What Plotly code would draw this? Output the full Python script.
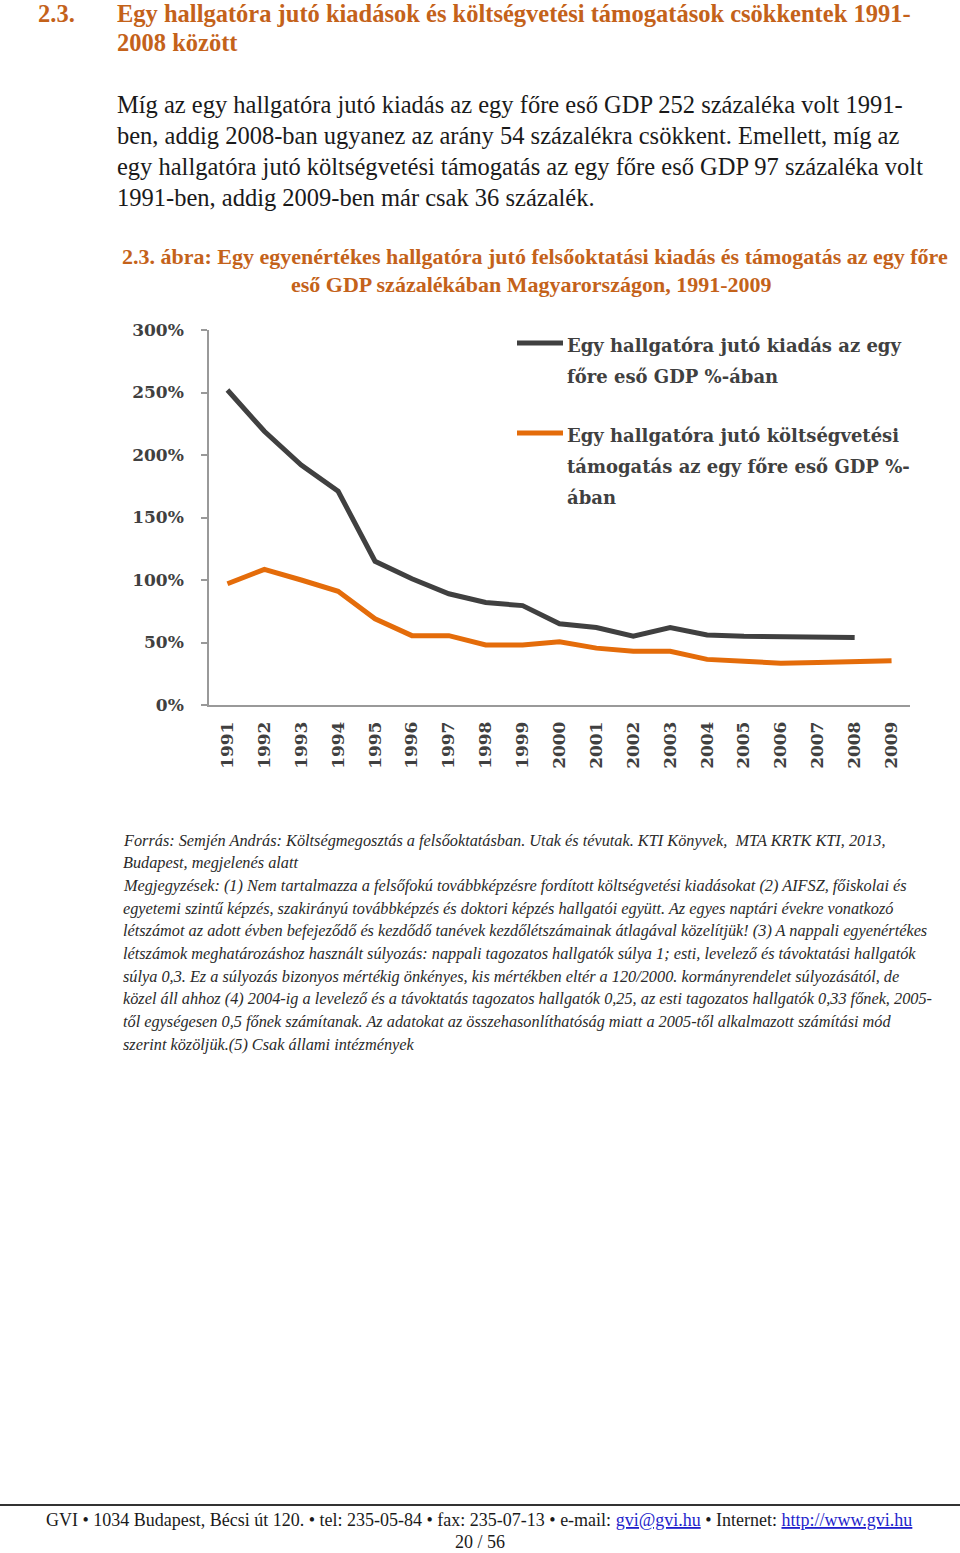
import plotly.graph_objects as go

years = [str(y) for y in range(1991, 2010)]
kiadas = [252, 219, 192, 171, 115, 101, 89, 82, 79.5, 65, 62, 55, 62, 56, 55, 54.5, 54, 54, None]
tamogatas = [97, 108.5, 100, 91, 69, 55.5, 55.5, 48, 48, 50.5, 45.5, 43, 43, 36.5, 35, 33.5, 34, 34.5, 35.5]
ytick_vals = [0, 50, 100, 150, 200, 250, 300]
ytick_text = ["0%", "50%", "100%", "150%", "200%", "250%", "300%"]

legend_names = [
    ["Egy hallgatóra jutó kiadás az egy", "főre eső GDP %-ában"],
    ["Egy hallgatóra jutó költségvetési", "támogatás az egy főre eső GDP %-", "ában"],
]
colors = ["#404040", "#E46C0A"]

heading_num = "2.3."
heading = ["Egy hallgatóra jutó kiadások és költségvetési támogatások csökkentek 1991-",
           "2008 között"]
body = ["Míg az egy hallgatóra jutó kiadás az egy főre eső GDP 252 százaléka volt 1991-",
        "ben, addig 2008-ban ugyanez az arány 54 százalékra csökkent. Emellett, míg az",
        "egy hallgatóra jutó költségvetési támogatás az egy főre eső GDP 97 százaléka volt",
        "1991-ben, addig 2009-ben már csak 36 százalék."]
caption = ["2.3. ábra: Egy egyenértékes hallgatóra jutó felsőoktatási kiadás és támogatás az egy főre",
           "eső GDP százalékában Magyarországon, 1991-2009"]
notes = [
    "Forrás: Semjén András: Költségmegosztás a felsőoktatásban. Utak és tévutak. KTI Könyvek,  MTA KRTK KTI, 2013,",
    "Budapest, megjelenés alatt",
    "Megjegyzések: (1) Nem tartalmazza a felsőfokú továbbképzésre fordított költségvetési kiadásokat (2) AIFSZ, főiskolai és",
    "egyetemi szintű képzés, szakirányú továbbképzés és doktori képzés hallgatói együtt. Az egyes naptári évekre vonatkozó",
    "létszámot az adott évben befejeződő és kezdődő tanévek kezdőlétszámainak átlagával közelítjük! (3) A nappali egyenértékes",
    "létszámok meghatározáshoz használt súlyozás: nappali tagozatos hallgatók súlya 1; esti, levelező és távoktatási hallgatók",
    "súlya 0,3. Ez a súlyozás bizonyos mértékig önkényes, kis mértékben eltér a 120/2000. kormányrendelet súlyozásától, de",
    "közel áll ahhoz (4) 2004-ig a levelező és a távoktatás tagozatos hallgatók 0,25, az esti tagozatos hallgatók 0,33 főnek, 2005-",
    "től egységesen 0,5 főnek számítanak. Az adatokat az összehasonlíthatóság miatt a 2005-től alkalmazott számítási mód",
    "szerint közöljük.(5) Csak állami intézmények",
]
footer = ("GVI • 1034 Budapest, Bécsi út 120. • tel: 235-05-84 • fax: 235-07-13 • e-mail: "
          "<span style='color:#1F1FCC'><u>gvi@gvi.hu</u></span> • Internet: "
          "<span style='color:#1F1FCC'><u>http://www.gvi.hu</u></span>")
page = "20 / 56"

W, H = 960, 1553
L, R, T, B = 209, 910, 330, 705


def px(x):
    return (x - L) / (R - L)


def py(y):
    return (B - y) / (B - T)


SERIF = "Liberation Serif"
CHART_FONT = "DejaVu Serif"
ORANGE_TXT = "#C4621A"

fig = go.Figure()
fig.add_trace(go.Scatter(x=years, y=kiadas, mode="lines", name=" ".join(legend_names[0]),
                         line=dict(color=colors[0], width=5), showlegend=False, hoverinfo="skip"))
fig.add_trace(go.Scatter(x=years, y=tamogatas, mode="lines", name=" ".join(legend_names[1]),
                         line=dict(color=colors[1], width=5), showlegend=False, hoverinfo="skip"))

ann = []


def text(x, y, s, size, color, family=SERIF, anchor="left"):
    ann.append(dict(x=px(x), y=py(y), xref="paper", yref="paper", text=s, showarrow=False,
                    xanchor=anchor, yanchor="middle", align=anchor, borderpad=0,
                    font=dict(family=family, size=size, color=color)))


text(37, 13, "<b>" + heading_num + "</b>", 24.5, ORANGE_TXT)
text(116, 13, "<b>" + heading[0] + "</b>", 24.5, ORANGE_TXT)
text(116, 43, "<b>" + heading[1] + "</b>", 24.5, ORANGE_TXT)
for i, s in enumerate(body):
    text(116, [104, 135, 167, 198][i], s, 24.5, "#1a1a1a")
text(535, 257, "<b>" + caption[0] + "</b>", 22, ORANGE_TXT, anchor="center")
text(531, 285, "<b>" + caption[1] + "</b>", 22, ORANGE_TXT, anchor="center")
for i, s in enumerate(notes):
    text(122, 840 + i * 22.7, "<i>" + s + "</i>", 16.3, "#2a2a2a")
text(479, 1520, footer, 18, "#1a1a1a", anchor="center")
text(480, 1542, page, 18, "#1a1a1a", anchor="center")

# manual legend
shapes = []
leg_y = [[345, 376], [435, 466, 497]]
for k in range(2):
    shapes.append(dict(type="line", xref="paper", yref="paper", x0=px(517), x1=px(563),
                       y0=py(leg_y[k][0] - 2), y1=py(leg_y[k][0] - 2),
                       line=dict(color=colors[k], width=5)))
    for j, s in enumerate(legend_names[k]):
        text(566, leg_y[k][j], "<b>" + s + "</b>", 18, "#404040", family=CHART_FONT)

shapes.append(dict(type="line", xref="paper", yref="paper", x0=px(0), x1=px(960),
                   y0=py(1505), y1=py(1505), line=dict(color="#333333", width=2)))

fig.update_layout(
    width=W, height=H,
    margin=dict(l=L, r=W - R, t=T, b=H - B, pad=0),
    paper_bgcolor="white", plot_bgcolor="white",
    showlegend=False,
    annotations=ann, shapes=shapes,
    xaxis=dict(type="category", range=[-0.5, 18.5], showline=True, linecolor="#999999", linewidth=1.5,
               ticks="", showgrid=False, zeroline=False, tickangle=-90, ticklabelstandoff=8,
               tickfont=dict(family=CHART_FONT, size=17, color="#404040", weight="bold")),
    yaxis=dict(range=[0, 300], tickvals=ytick_vals, ticktext=ytick_text, showline=True,
               linecolor="#999999", linewidth=1.5, ticks="outside", ticklen=6, tickcolor="#999999",
               tickwidth=1.5, showgrid=False, zeroline=False, ticklabelstandoff=14,
               tickfont=dict(family=CHART_FONT, size=17, color="#404040", weight="bold")),
)

fig.write_html("out.html")
